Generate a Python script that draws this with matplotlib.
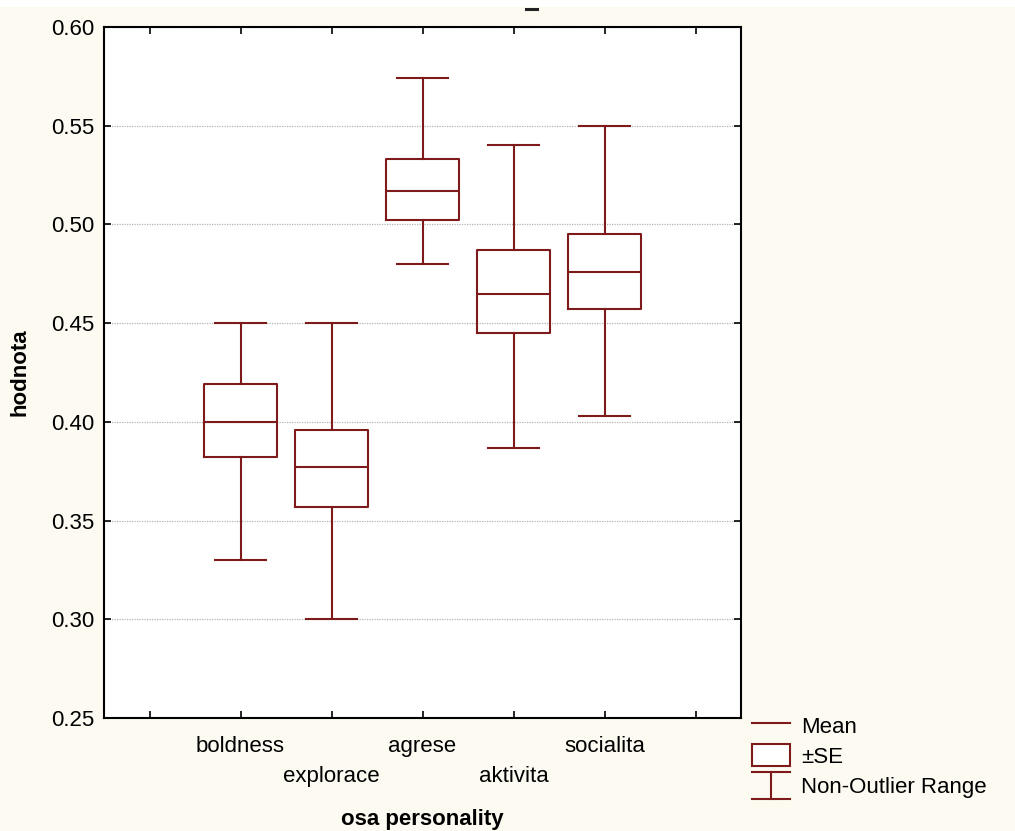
import matplotlib
matplotlib.use('Agg')
import matplotlib.pyplot as plt
from matplotlib.lines import Line2D
from matplotlib.patches import Rectangle
from matplotlib.legend_handler import HandlerBase

plt.rcParams['font.family'] = ['Liberation Sans', 'DejaVu Sans']

categories = ['boldness', 'explorace', 'agrese', 'aktivita', 'socialita']
means = [0.400, 0.377, 0.517, 0.465, 0.476]
se_low = [0.382, 0.357, 0.502, 0.445, 0.457]
se_high = [0.419, 0.396, 0.533, 0.487, 0.495]
range_low = [0.330, 0.300, 0.480, 0.387, 0.403]
range_high = [0.450, 0.450, 0.574, 0.540, 0.550]
y_ticks = [0.25, 0.30, 0.35, 0.40, 0.45, 0.50, 0.55, 0.60]

BOX_COLOR = '#7f1a1a'
BG = '#fdfaf1'


class WhiskerHandler(HandlerBase):
    """Legend icon for the non-outlier range (an I shape)."""

    def create_artists(self, legend, orig_handle, xdescent, ydescent,
                       width, height, fontsize, trans):
        x0, x1 = -xdescent, -xdescent + width
        y0, y1 = -ydescent - 0.1 * height, -ydescent + 1.1 * height
        xm = (x0 + x1) / 2
        segs = [([x0, x1], [y1, y1]), ([x0, x1], [y0, y0]), ([xm, xm], [y0, y1])]
        arts = []
        for xs, ys in segs:
            ln = Line2D(xs, ys, color=orig_handle.get_color(), lw=1.5)
            ln.set_transform(trans)
            arts.append(ln)
        return arts


fig = plt.figure(figsize=(10.15, 8.31), dpi=100, facecolor=BG)
# white strip along the top edge of the screenshot, with the small title dash
fig.add_artist(Rectangle((0, 1 - 7 / 831), 1, 7 / 831, transform=fig.transFigure,
                         facecolor='white', edgecolor='none', zorder=0))
fig.add_artist(Line2D([526 / 1015, 537 / 1015], [1 - 9 / 831, 1 - 9 / 831],
                      transform=fig.transFigure, color='#222222', lw=2.2))

ax = fig.add_axes([104 / 1015, 1 - 718 / 831, 637 / 1015, 691 / 831])

stats = []
for i, name in enumerate(categories):
    stats.append({'label': name, 'med': means[i], 'q1': se_low[i], 'q3': se_high[i],
                  'whislo': range_low[i], 'whishi': range_high[i], 'fliers': []})

positions = list(range(1, len(categories) + 1))
line_kw = dict(color=BOX_COLOR, linewidth=1.5)
ax.bxp(stats, positions=positions, widths=0.8, capwidths=0.55, showfliers=False,
       manage_ticks=False,
       boxprops=line_kw, whiskerprops=line_kw, capprops=line_kw, medianprops=line_kw)

ax.set_xlim(-0.5, len(categories) + 1.5)
ax.set_ylim(0.25, 0.60)
ax.set_yticks(y_ticks)
ax.set_yticklabels([f'{v:.2f}' for v in y_ticks])
ax.yaxis.grid(True, color='#b5b5b5', linestyle=(0, (1, 1)), linewidth=0.9)
ax.set_axisbelow(True)

# major ticks without labels, category labels on minor ticks (staggered)
ax.xaxis.remove_overlapping_locs = False
ax.set_xticks(range(0, len(categories) + 2))
ax.set_xticklabels([])
ax.set_xticks(positions, minor=True)
ax.set_xticklabels([c if i % 2 == 0 else '\n' + c for i, c in enumerate(categories)],
                   minor=True, fontsize=16, linespacing=1.55)
ax.tick_params(axis='x', which='minor', length=0, pad=13)
ax.tick_params(axis='both', which='major', direction='in', length=5, width=1.2,
               top=True, right=True, labelsize=16)
ax.tick_params(axis='y', pad=7)

for sp in ax.spines.values():
    sp.set_linewidth(1.5)
    sp.set_color('black')

ax.set_xlabel('osa personality', fontsize=16, fontweight='bold', labelpad=16)
ax.set_ylabel('hodnota', fontsize=16, fontweight='bold', labelpad=15)

handles = [Line2D([], [], color=BOX_COLOR, lw=1.5),
           Rectangle((0, 0), 1, 1, facecolor='white', edgecolor=BOX_COLOR, lw=1.5),
           Line2D([], [], color=BOX_COLOR, lw=1.5)]
labels = ['Mean', '\u00b1SE', 'Non-Outlier Range']
fig.legend(handles, labels, loc='upper left', bbox_to_anchor=(741 / 1015, 1 - 703 / 831),
           frameon=False, fontsize=16, borderpad=0, handlelength=1.7, handleheight=1.15,
           handletextpad=0.5, labelspacing=0.3,
           handler_map={handles[2]: WhiskerHandler()})

fig.savefig('out.png', dpi=100, facecolor=BG)
